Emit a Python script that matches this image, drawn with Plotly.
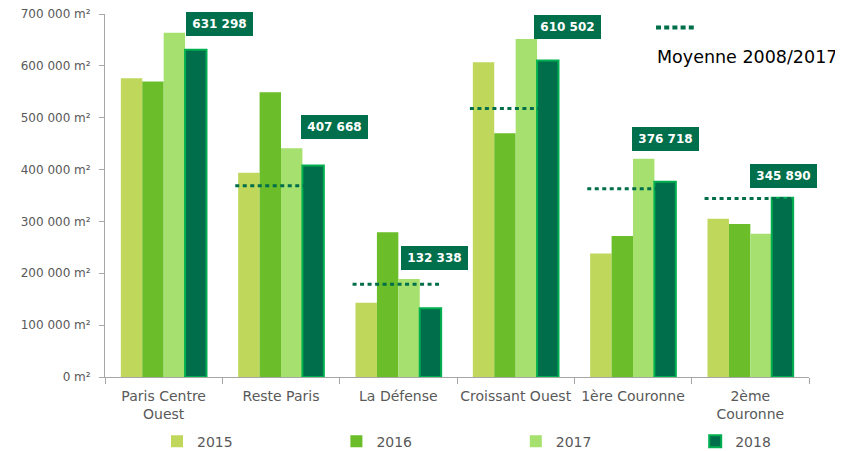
import plotly.graph_objects as go

categories = ["Paris Centre<br>Ouest", "Reste Paris", "La Défense", "Croissant Ouest", "1ère Couronne", "2ème<br>Couronne"]
years = ["2015", "2016", "2017", "2018"]
v2015 = [576000, 394000, 143000, 607000, 238000, 305000]
v2016 = [570000, 549000, 279000, 470000, 272000, 295000]
v2017 = [664000, 441000, 189000, 652000, 421000, 276000]
v2018 = [631298, 407668, 132338, 610502, 376718, 345890]
moyenne = [None, 369000, 179000, 518000, 363000, 344000]
label_text = ["631 298", "407 668", "132 338", "610 502", "376 718", "345 890"]
y_ticks = [0, 100000, 200000, 300000, 400000, 500000, 600000, 700000]
y_ticktext = ["0 m²", "100 000 m²", "200 000 m²", "300 000 m²", "400 000 m²", "500 000 m²", "600 000 m²", "700 000 m²"]

colors = ["#BFD75B", "#6BBD2A", "#A6E170", "#006E4A"]
series = [v2015, v2016, v2017, v2018]
label_xshift = [22, 20, 3, 18, -1, 0]
label_yshift = [14, 27, 38, 21, 31, 10]
legend_ids = ["legend", "legend2", "legend3", "legend4"]
legend_left = [149, 328.4, 507.8, 687.2]  # px within figure

FONT = "DejaVu Sans"
W, H = 835, 443
fig = go.Figure()
for yr, vals, col, lid in zip(years, series, colors, legend_ids):
    line = dict(color="#00B050", width=2) if yr == "2018" else dict(width=0)
    fig.add_trace(go.Bar(x=categories, y=vals, name=yr, legend=lid, marker=dict(color=col, line=line)))

# average lines
for i, m in enumerate(moyenne):
    if m is None:
        continue
    fig.add_shape(type="line", xref="x", yref="y", x0=i - 0.39, x1=i + 0.37, y0=m, y1=m,
                  line=dict(color="#006E4A", width=3, dash="4px,3.5px"), layer="above")

# data labels for 2018
for i, (v, t) in enumerate(zip(v2018, label_text)):
    fig.add_annotation(x=categories[i], y=v, text="<b>" + t + "</b>", showarrow=False,
                       xanchor="left", yanchor="bottom", xshift=label_xshift[i], yshift=label_yshift[i],
                       width=61, height=18, align="center", valign="middle",
                       bgcolor="#006F4B", font=dict(color="white", size=12, family=FONT),
                       borderpad=2, borderwidth=1, bordercolor="#006F4B")

# custom legend for average
fig.add_shape(type="line", xref="paper", yref="paper", x0=(656 - 105) / 704, x1=(697 - 105) / 704,
              y0=(377 - 27.5) / 363, y1=(377 - 27.5) / 363,
              line=dict(color="#006E4A", width=4, dash="5px,3.2px"))
fig.add_annotation(xref="paper", yref="paper", x=(655 - 105) / 704, y=(377 - 56.5) / 363,
                   text="Moyenne 2008/2017", showarrow=False, xanchor="left", yanchor="middle",
                   font=dict(color="black", size=17.5, family=FONT))

legend_common = dict(orientation="h", xref="container", yref="container", y=0.021,
                     xanchor="left", yanchor="middle", font=dict(size=14, color="#595959"),
                     bgcolor="rgba(0,0,0,0)")
layout_legends = {}
for lid, lx in zip(legend_ids, legend_left):
    layout_legends[lid] = dict(legend_common, x=lx / W)

fig.update_layout(
    width=W, height=H,
    margin=dict(l=97, r=34, t=6, b=74),
    paper_bgcolor="white", plot_bgcolor="white",
    barmode="group", bargap=0.27, bargroupgap=0,
    font=dict(family=FONT, color="#595959", size=13),
    showlegend=True,
    xaxis=dict(type="category", range=[-0.5, 5.5], tickson="boundaries", showline=True,
               linecolor="#A6A6A6", linewidth=1,
               ticks="outside", ticklen=6, tickcolor="#A6A6A6", tickfont=dict(size=14), showgrid=False,
               automargin=False, ticklabelstandoff=6, tickangle=0, ticklabeloverflow="allow"),
    yaxis=dict(range=[0, 700000], tickvals=y_ticks, ticktext=y_ticktext, showline=True,
               linecolor="#A6A6A6", linewidth=1, ticks="outside", ticklen=5, tickcolor="#A6A6A6",
               showgrid=False, zeroline=False, tickfont=dict(size=12), automargin=False,
               ticklabelstandoff=6, ticklabeloverflow="allow"),
    **layout_legends,
)

fig.write_html("out.html")
